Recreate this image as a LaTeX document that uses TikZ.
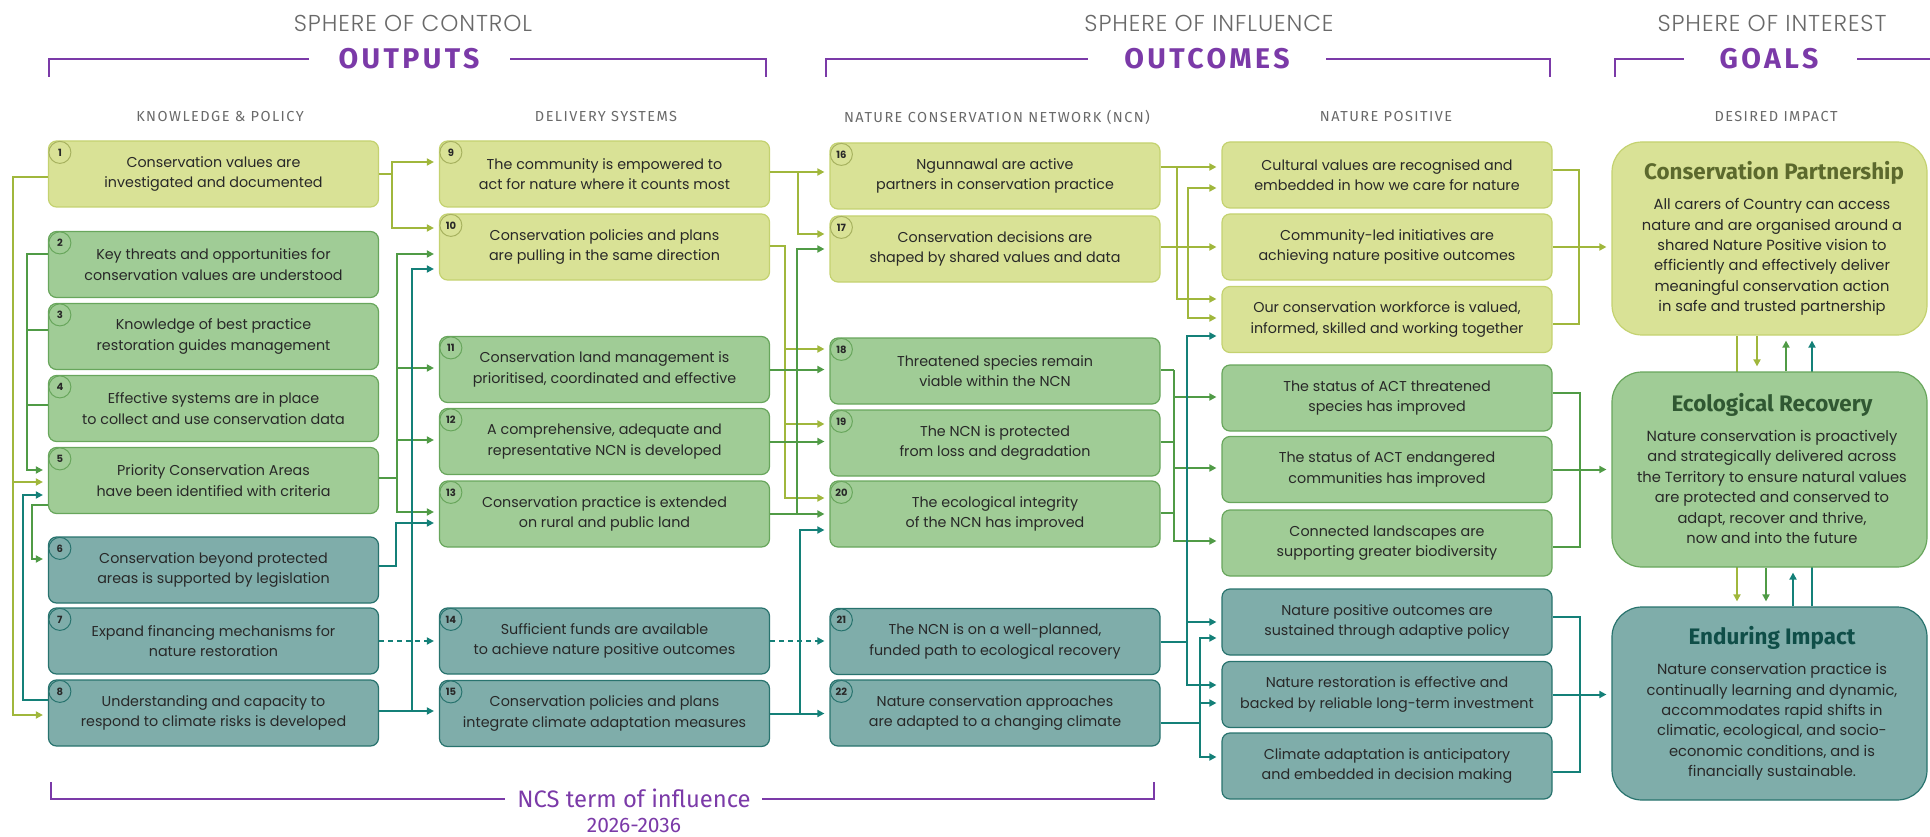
\documentclass[tikz,border=0pt]{standalone}
\usepackage{fontspec}
\setmainfont{Poppins}
\newfontfamily\lightf{Poppins}[UprightFont=* Light, LetterSpace=4]
\newfontfamily\firaf{Fira Sans}
\newfontfamily\firasp{Fira Sans}[LetterSpace=10]
\newfontfamily\firabig{Fira Sans}[LetterSpace=12]
\usetikzlibrary{arrows.meta,calc}
\pgfdeclarelayer{bg}
\pgfsetlayers{bg,main}
\definecolor{ylfill}{RGB}{217,226,150}
\definecolor{yldraw}{RGB}{196,210,112}
\definecolor{ylline}{RGB}{160,183,60}
\definecolor{grfill}{RGB}{160,204,150}
\definecolor{grdraw}{RGB}{104,166,92}
\definecolor{grline}{RGB}{80,155,70}
\definecolor{tlfill}{RGB}{127,173,170}
\definecolor{tldraw}{RGB}{40,115,110}
\definecolor{tlline}{RGB}{20,128,120}
\definecolor{purp}{RGB}{123,58,168}
\definecolor{hgray}{RGB}{105,105,105}
\definecolor{txt}{RGB}{40,40,40}
\definecolor{gtitleA}{RGB}{92,105,45}
\definecolor{gtitleB}{RGB}{48,88,50}
\definecolor{gtitleC}{RGB}{15,78,72}
\newcommand\bxfont{\fontsize{14.3pt}{20.7pt}\selectfont}
\begin{document}
\begin{tikzpicture}[x=1pt,y=-1pt,
  box/.style={rounded corners=8pt, minimum width=330pt, minimum height=66pt, inner sep=0pt,
    align=center, line width=1.2pt, font=\bxfont, text=txt},
  ybox/.style={box, fill=ylfill, draw=yldraw},
  gbox/.style={box, fill=grfill, draw=grdraw},
  tbox/.style={box, fill=tlfill, draw=tldraw},
  goal/.style={rounded corners=30pt, minimum width=315pt, inner sep=0pt, line width=1.2pt},
  numc/.style={circle, minimum size=22pt, inner sep=0pt, line width=1pt,
    font=\fontsize{10pt}{10pt}\selectfont\bfseries, text=txt},
  yl/.style={draw=ylline, line width=2pt},
  gl/.style={draw=grline, line width=2pt},
  tl/.style={draw=tlline, line width=2pt},
  tip/.style={-{Triangle[length=7pt,width=7pt]}, shorten >=5pt},
  ya/.style={yl, tip},
  ga/.style={gl, tip},
  ta/.style={tl, tip},
  tda/.style={tl, tip, dash pattern=on 5pt off 4pt},
  brk/.style={draw=purp, line width=1.6pt},
  sphere/.style={font=\lightf\fontsize{23pt}{23pt}\selectfont, text=hgray},
  bighdr/.style={font=\firabig\bfseries\fontsize{28.5pt}{28.5pt}\selectfont, text=purp, inner sep=0pt},
  subhdr/.style={font=\firasp\fontsize{14.5pt}{14.5pt}\selectfont, text=hgray},
  gtitle/.style={font=\firaf\bfseries\fontsize{22.4pt}{22.4pt}\selectfont},
  gbody/.style={font=\fontsize{14.7pt}{20.4pt}\selectfont, text=txt, align=center}
]
\useasboundingbox (0,0) rectangle (1930,837);

% ---------- headers ----------
\node[sphere] (sc) at (413,23) {SPHERE OF CONTROL};
\node[sphere] (si) at (1209,23) {SPHERE OF INFLUENCE};
\node[sphere] (st) at (1772,23) {SPHERE OF INTEREST};
\node[bighdr] (hout) at (409,59) {OUTPUTS};
\node[bighdr] (hoc) at (1207,59) {OUTCOMES};
\node[bighdr] (hgo) at (1769,59) {GOALS};
\coordinate (b1a) at (49,77); \coordinate (b1b) at (49,59);
\coordinate (b1c) at (309,59); \coordinate (b1d) at (510,59);
\coordinate (b1e) at (766,59); \coordinate (b1f) at (766,77);
\draw[brk] (b1a) -- (b1b) -- (b1c);
\draw[brk] (b1d) -- (b1e) -- (b1f);
\coordinate (b2a) at (826,77); \coordinate (b2b) at (826,59);
\coordinate (b2c) at (1088,59); \coordinate (b2d) at (1326,59);
\coordinate (b2e) at (1550,59); \coordinate (b2f) at (1550,77);
\draw[brk] (b2a) -- (b2b) -- (b2c);
\draw[brk] (b2d) -- (b2e) -- (b2f);
\coordinate (b3a) at (1615,77); \coordinate (b3b) at (1615,59);
\coordinate (b3c) at (1684,59); \coordinate (b3d) at (1857,59);
\coordinate (b3e) at (1930,59);
\draw[brk] (b3a) -- (b3b) -- (b3c);
\draw[brk] (b3d) -- (b3e);
\node[subhdr] (k1) at (220,117) {KNOWLEDGE \& POLICY};
\node[subhdr] (k2) at (606,117) {DELIVERY SYSTEMS};
\node[subhdr] (k3) at (997,117) {NATURE CONSERVATION NETWORK (NCN)};
\node[subhdr] (k4) at (1386,117) {NATURE POSITIVE};
\node[subhdr] (k5) at (1776,117) {DESIRED IMPACT};

% bottom bracket
\node[font=\firaf\fontsize{23.8pt}{23.8pt}\selectfont, text=purp] (ncs) at (634,798) {NCS term of influence};
\node[font=\firaf\fontsize{21pt}{21pt}\selectfont, text=purp, inner sep=1pt] (yrs) at (634,825) {2026-2036};
\coordinate (b4a) at (51,782); \coordinate (b4b) at (51,799);
\coordinate (b4c) at (505,799); \coordinate (b4d) at (762,799);
\coordinate (b4e) at (1154,799); \coordinate (b4f) at (1154,782);
\draw[brk] (b4a) -- (b4b) -- (b4c);
\draw[brk] (b4d) -- (b4e) -- (b4f);

% ---------- column 1 ----------
\node[ybox] (n1) at (213.5,174) {Conservation values are\\investigated and documented};
\node[gbox] (n2) at (213.5,264.5) {Key threats and opportunities for\\conservation values are understood};
\node[gbox] (n3) at (213.5,336.5) {Knowledge of best practice\\restoration guides management};
\node[gbox] (n4) at (213.5,408.5) {Effective systems are in place\\to collect and use conservation data};
\node[gbox] (n5) at (213.5,480.5) {Priority Conservation Areas\\have been identified with criteria};
\node[tbox] (n6) at (213.5,570) {Conservation beyond protected\\areas is supported by legislation};
\node[tbox] (n7) at (213.5,641) {Expand financing mechanisms for\\nature restoration};
\node[tbox] (n8) at (213.5,713) {Understanding and capacity to\\respond to climate risks is developed};
% ---------- column 2 ----------
\node[ybox] (n9) at (604.5,174) {The community is empowered to\\act for nature where it counts most};
\node[ybox] (n10) at (604.5,247) {Conservation policies and plans\\are pulling in the same direction};
\node[gbox] (n11) at (604.5,369.5) {Conservation land management is\\prioritised, coordinated and effective};
\node[gbox] (n12) at (604.5,441.5) {A comprehensive, adequate and\\representative NCN is developed};
\node[gbox] (n13) at (604.5,514) {Conservation practice is extended\\on rural and public land};
\node[tbox] (n14) at (604.5,641) {Sufficient funds are available\\to achieve nature positive outcomes};
\node[tbox] (n15) at (604.5,713.5) {Conservation policies and plans\\integrate climate adaptation measures};
% ---------- column 3 ----------
\node[ybox] (n16) at (995,176) {Ngunnawal are active\\partners in conservation practice};
\node[ybox] (n17) at (995,249) {Conservation decisions are\\shaped by shared values and data};
\node[gbox] (n18) at (995,371) {Threatened species remain\\viable within the NCN};
\node[gbox] (n19) at (995,443) {The NCN is protected\\from loss and degradation};
\node[gbox] (n20) at (995,514) {The ecological integrity\\of the NCN has improved};
\node[tbox] (n21) at (995,641.5) {The NCN is on a well-planned,\\funded path to ecological recovery};
\node[tbox] (n22) at (995,713) {Nature conservation approaches\\are adapted to a changing climate};
% ---------- column 4 ----------
\node[ybox] (nA1) at (1387,175) {Cultural values are recognised and\\embedded in how we care for nature};
\node[ybox] (nA2) at (1387,247) {Community-led initiatives are\\achieving nature positive outcomes};
\node[ybox] (nA3) at (1387,319.5) {Our conservation workforce is valued,\\informed, skilled and working together};
\node[gbox] (nB1) at (1387,398) {The status of ACT threatened\\species has improved};
\node[gbox] (nB2) at (1387,469.5) {The status of ACT endangered\\communities has improved};
\node[gbox] (nB3) at (1387,543) {Connected landscapes are\\supporting greater biodiversity};
\node[tbox] (nC1) at (1387,622) {Nature positive outcomes are\\sustained through adaptive policy};
\node[tbox] (nC2) at (1387,694.5) {Nature restoration is effective and\\backed by reliable long-term investment};
\node[tbox] (nC3) at (1387,766) {Climate adaptation is anticipatory\\and embedded in decision making};

% ---------- number circles ----------
\foreach \i in {1,9,10,16,17}
  \node[numc, fill=ylfill, draw=yldraw!85!black] (c\i) at ([xshift=12pt,yshift=-12pt]n\i.north west) {\i};
\foreach \i in {2,3,4,5,11,12,13,18,19,20}
  \node[numc, fill=grfill, draw=grdraw] (c\i) at ([xshift=12pt,yshift=-12pt]n\i.north west) {\i};
\foreach \i in {6,7,8,14,15,21,22}
  \node[numc, fill=tlfill, draw=tldraw] (c\i) at ([xshift=12pt,yshift=-12pt]n\i.north west) {\i};

% ---------- goals ----------
\node[goal, fill=ylfill, draw=yldraw, minimum height=193pt] (nG1) at (1769.5,238.5) {};
\node[goal, fill=grfill, draw=grdraw, minimum height=195pt] (nG2) at (1769.5,469.5) {};
\node[goal, fill=tlfill, draw=tldraw, minimum height=193pt] (nG3) at (1769.5,703.5) {};
\node[gtitle, text=gtitleA] (gt1) at (1774,173) {Conservation Partnership};
\node[gbody] (gb1) at (1772,257) {All carers of Country can access\\nature and are organised around a\\shared Nature Positive vision to\\efficiently and effectively deliver\\meaningful conservation action\\in safe and trusted partnership};
\node[gtitle, text=gtitleB] (gt2) at (1772,405) {Ecological Recovery};
\node[gbody] (gb2) at (1772,487) {Nature conservation is proactively\\and strategically delivered across\\the Territory to ensure natural values\\are protected and conserved to\\adapt, recover and thrive,\\now and into the future};
\node[gtitle, text=gtitleC] (gt3) at (1772,638) {Enduring Impact};
\node[gbody] (gb3) at (1772,722) {Nature conservation practice is\\continually learning and dynamic,\\accommodates rapid shifts in\\climatic, ecological, and socio-\\economic conditions, and is\\financially sustainable.};

% ---------- trunk x positions ----------
\coordinate (xa) at (13,0);  \coordinate (xb) at (23,0);
\coordinate (xc) at (27,0);  \coordinate (xd) at (32,0);
\coordinate (xe) at (392,0); \coordinate (xf) at (397,0);
\coordinate (xg) at (396,0); \coordinate (xh) at (412,0);
\coordinate (xi) at (798,0); \coordinate (xj) at (785,0);
\coordinate (xk) at (797,0); \coordinate (xl) at (800,0);
\coordinate (xm) at (1177,0); \coordinate (xn) at (1188,0);
\coordinate (xo) at (1174,0); \coordinate (xp) at (1187,0);
\coordinate (xq) at (1200,0); \coordinate (xr) at (1579,0);
\coordinate (xs) at (1580,0);
\coordinate (v1) at (1737,0); \coordinate (v2) at (1757,0);
\coordinate (v3) at (1786,0); \coordinate (v4) at (1812,0);
\coordinate (v5) at (1766,0); \coordinate (v6) at (1793,0);

% ---------- column 1 left side ----------
\draw[ya] ([yshift=-3pt]n1.west) -- ([yshift=-3pt]n1.west -| xa) |- ([yshift=-1.5pt]n5.west);
\draw[ya] ([yshift=-3pt]n1.west -| xa) |- ([yshift=-2pt]n8.west);
\draw[ga] ([yshift=10.5pt]n2.west) -- ([yshift=10.5pt]n2.west -| xc) |- ([yshift=10.5pt]n5.west);
\draw[gl] ([yshift=6.5pt]n3.west) -- ([yshift=6.5pt]n3.west -| xc);
\draw[gl] ([yshift=3.5pt]n4.west) -- ([yshift=3.5pt]n4.west -| xc);
\draw[ga] ([yshift=-24.5pt]n5.west) -- ([yshift=-24.5pt]n5.west -| xd) |- ([yshift=11pt]n6.west);
\draw[ta] ([yshift=13pt]n8.west) -- ([yshift=13pt]n8.west -| xb) |- ([yshift=-14.5pt]n5.west);

% ---------- column 1 -> column 2 ----------
\draw[ya] (n1.east) -- (n1.east -| xe) |- ([yshift=12pt]n9.west);
\draw[ya] (n1.east -| xe) |- ([yshift=19pt]n10.west);
\draw[ga] ([yshift=2.5pt]n5.east) -- ([yshift=2.5pt]n5.east -| xf) |- ([yshift=-7pt]n10.west);
\draw[ga] ([yshift=2.5pt]n5.east -| xf) |- ([yshift=1.5pt]n11.west);
\draw[ga] ([yshift=2.5pt]n5.east -| xf) |- ([yshift=1.5pt]n12.west);
\draw[ga] ([yshift=2.5pt]n5.east -| xf) |- ([yshift=2pt]n13.west);
\draw[ta] ([yshift=4pt]n6.east) -- ([yshift=4pt]n6.east -| xg) |- ([yshift=-9pt]n13.west);
\draw[ta] ([yshift=2pt]n8.east) -- ([yshift=2pt]n8.east -| xh) |- ([yshift=-22pt]n10.west);
\draw[ta] ([yshift=2pt]n8.east) -- ([yshift=2pt]n8.east -| n15.west);
\draw[tda] (n7.east) -- (n7.east -| n14.west);

% ---------- column 2 -> column 3 ----------
\draw[ya] ([yshift=2pt]n9.east) -- ([yshift=2pt]n9.east -| xi) |- ([yshift=4pt]n16.west);
\draw[ya] ([yshift=2pt]n9.east -| xi) |- ([yshift=15pt]n17.west);
\draw[ya] ([yshift=1pt]n10.east) -- ([yshift=1pt]n10.east -| xj) |- ([yshift=22pt]n18.west);
\draw[ya] ([yshift=1pt]n10.east -| xj) |- ([yshift=19pt]n19.west);
\draw[ya] ([yshift=1pt]n10.east -| xj) |- ([yshift=16pt]n20.west);
\draw[ga] (n11.east) -- (n11.east -| n18.west);
\draw[ga] (n12.east) -- (n12.east -| n19.west);
\draw[ga] (n13.east) -- (n13.east -| n20.west);
\draw[ga] (n13.east -| xk) |- (n17.west);
\draw[ta] (n15.east) -- (n15.east -| n22.west);
\draw[ta] (n15.east -| xl) |- ([yshift=-16pt]n20.west);
\draw[tda] (n14.east) -- (n14.east -| n21.west);

% ---------- column 3 -> column 4 ----------
\draw[ya] ([yshift=9pt]n16.east) -- ([yshift=9pt]n16.east -| xm) |- ([yshift=8pt]nA1.west);
\draw[ya] ([yshift=9pt]n16.east -| xm) |- ([yshift=20.5pt]nA3.west);
\draw[ya] ([yshift=2pt]n17.east) -- ([yshift=2pt]n17.east -| nA2.west);
\draw[ya] ([yshift=2pt]n17.east -| xn) |- ([yshift=-13pt]nA1.west);
\draw[ya] ([yshift=2pt]n17.east -| xn) |- ([yshift=1.5pt]nA3.west);
\draw[gl] ([yshift=1pt]n18.east) -- ([yshift=1pt]n18.east -| xo);
\draw[gl] ([yshift=1pt]n19.east) -- ([yshift=1pt]n19.east -| xo);
\draw[gl] ([yshift=1pt]n20.east) -- ([yshift=1pt]n20.east -| xo);
\draw[ga] ([yshift=1pt]n18.east -| xo) |- ([yshift=1pt]nB1.west);
\draw[ga] ([yshift=1pt]n18.east -| xo) |- ([yshift=1.5pt]nB2.west);
\draw[ga] ([yshift=1pt]n18.east -| xo) |- ([yshift=2pt]nB3.west);
\draw[tl] (n21.east) -- (n21.east -| xp);
\draw[ta] (n21.east -| xp) |- ([yshift=-16.5pt]nA3.west);
\draw[ta] (n21.east -| xp) |- (nC1.west);
\draw[ta] (n21.east -| xp) |- ([yshift=9.5pt]nC2.west);
\draw[tl] ([yshift=-10pt]n22.east) -- ([yshift=-10pt]n22.east -| xq);
\draw[ta] ([yshift=-10pt]n22.east -| xq) |- ([yshift=-16pt]nC1.west);
\draw[ta] ([yshift=-10pt]n22.east -| xq) |- ([yshift=-8.5pt]nC2.west);
\draw[ta] ([yshift=-10pt]n22.east -| xq) |- ([yshift=9pt]nC3.west);

% ---------- column 4 -> goals ----------
\draw[yl] ([yshift=5pt]nA1.east) -- ([yshift=5pt]nA1.east -| xr) -- ([yshift=-4.5pt]nA3.east -| xr) -- ([yshift=-4.5pt]nA3.east);
\draw[ya] (nA2.east) -- (nA2.east -| nG1.west);
\draw[gl] ([yshift=5pt]nB1.east) -- ([yshift=5pt]nB1.east -| xs) -- ([yshift=-4pt]nB3.east -| xs) -- ([yshift=-4pt]nB3.east);
\draw[ga] (nB2.east) -- (nB2.east -| nG2.west);
\draw[tl] ([yshift=5pt]nC1.east) -- ([yshift=5pt]nC1.east -| xs) -- ([yshift=-6pt]nC3.east -| xs) -- ([yshift=-6pt]nC3.east);
\draw[ta] (nC2.east) -- (nC2.east -| nG3.west);

% ---------- between goals ----------
\begin{pgfonlayer}{bg}
\draw[ya] (nG1.south -| v1) -- (nG3.north -| v1);
\draw[ta] (nG3.north -| v4) -- (nG1.south -| v4);
\end{pgfonlayer}
\draw[ya] (nG1.south -| v2) -- (nG2.north -| v2);
\draw[ga] (nG2.north -| v3) -- (nG1.south -| v3);
\draw[ga] (nG2.south -| v5) -- (nG3.north -| v5);
\draw[ta] (nG3.north -| v6) -- (nG2.south -| v6);
\end{tikzpicture}
\end{document}
